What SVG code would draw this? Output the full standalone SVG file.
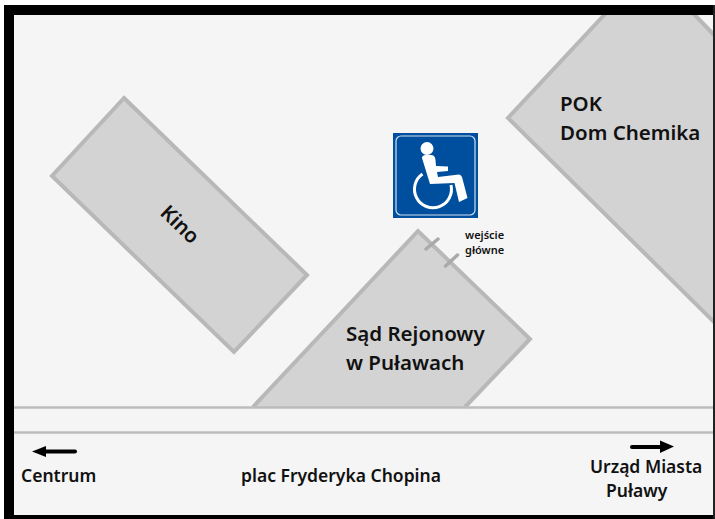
<svg xmlns="http://www.w3.org/2000/svg" width="715" height="519" viewBox="0 0 715 519">
<style>
.b{fill:#d3d3d3;stroke:#b8b8b8;stroke-width:4;stroke-linejoin:miter}
.r{stroke:#bcbcbc;stroke-width:2.500;fill:none}
.t{font-family:"Noto Sans","Open Sans",sans-serif;font-weight:600;fill:#111}
.l{font-size:20.500px}
.m{font-size:17.500px}
.s{font-size:11px}
.a{stroke:#000;stroke-width:4;stroke-linecap:round;fill:none}
</style>
<rect width="715" height="519" fill="#fff"/>
<rect x="4" y="5" width="710" height="514" fill="#f5f5f5"/>
<g id="pok">
<path class="b" d="M716 37L692 12L607 12L508 118L716 324V37Z"/>
<text class="t l" x="560" y="110.500">POK</text>
<text class="t l" x="560" y="139.500">Dom Chemika</text>
</g>
<g id="kino">
<path class="b" d="M124 98L307 275L234 352L52 176Z"/>
<text class="t l" transform="translate(159 214) rotate(44)">Kino</text>
</g>
<g id="sad">
<path class="b" d="M253 407L418 231L530 339L465 407"/>
<text class="t l" x="346" y="341">Sąd Rejonowy</text>
<text class="t l" x="346" y="370">w Puławach</text>
</g>
<g id="road">
<path class="r" d="M14 407.500H713M14 432.500H713"/>
</g>
<g id="frame">
<path d="M4 5H714V15H14V515H714V519H4Z" fill="#000"/>
<rect x="713" y="5" width="2" height="514" fill="#222"/>
</g>
<g id="icon">
<rect x="393" y="133" width="85" height="85" fill="#004f9e"/>
<rect x="396" y="136" width="79" height="79" rx="5" fill="none" stroke="#cfe0f0" stroke-width="1.200"/>
<circle cx="427" cy="148.500" r="6.500" fill="#fff"/>
<path d="M422 158Q422 155 426 155L431 155Q435 155 435.500 160L436 166L448 166.500L448 171L437 172L438 177L459 174.500Q461 174.500 462 177L467.500 198L459 202L454.500 183L430 184Z" fill="#fff"/>
<path d="M422.500 174A18.500 18.500 0 1 0 451 185" fill="none" stroke="#fff" stroke-width="3"/>
</g>
<g id="entrance">
<text class="t s" x="465" y="239">wejście</text>
<text class="t s" x="465" y="254">główne</text>
</g>
<g id="connectors">
<path d="M426 249L438 239M445.500 266L457.500 255" stroke="#aaa" stroke-width="3.500" stroke-linecap="round" fill="none"/>
<path class="a" d="M44 451.500H75"/>
<path d="M32 451.500L46 446V457Z" fill="#000"/>
<path class="a" d="M632 447H662"/>
<path d="M674 446.500L660 440.500V453Z" fill="#000"/>
</g>
<g id="labels">
<text class="t m" x="21" y="482">Centrum</text>
<text class="t m" x="241" y="482">plac Fryderyka Chopina</text>
<text class="t m" x="590" y="473">Urząd Miasta</text>
<text class="t m" x="606" y="497">Puławy</text>
</g>
</svg>
